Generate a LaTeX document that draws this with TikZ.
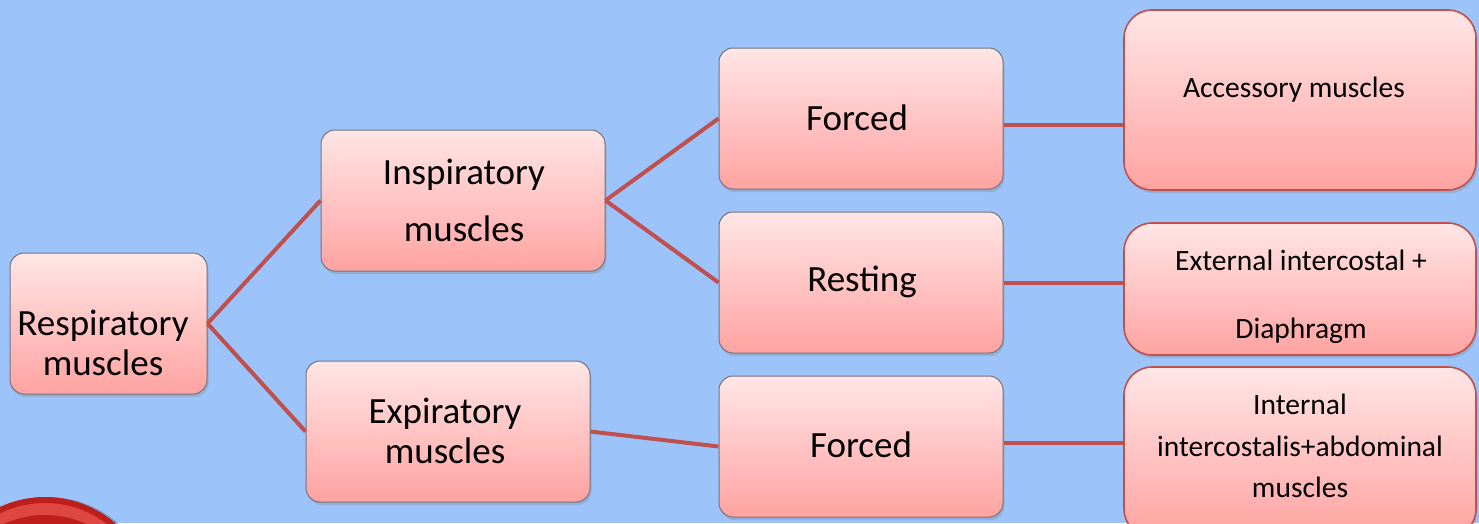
\documentclass[tikz,border=0pt]{standalone}
\usepackage{fontspec}
\setmainfont{Carlito}
\usetikzlibrary{shadows,calc}
\definecolor{bg}{RGB}{157,196,250}
\definecolor{lnk}{RGB}{192,80,77}
\definecolor{ptop}{RGB}{255,230,230}
\definecolor{pbot}{RGB}{255,163,161}
\definecolor{gb}{RGB}{115,115,125}
\definecolor{dred}{RGB}{190,30,28}
\definecolor{lred}{RGB}{222,70,66}
\begin{document}
\begin{tikzpicture}[x=1pt,y=-1pt,
  box/.style={draw=gb, line width=1pt, rounded corners=14pt, top color=ptop, bottom color=pbot,
    drop shadow={opacity=0.3,shadow xshift=1.5pt,shadow yshift=-3pt}, inner sep=0pt},
  rbox/.style={box, draw=lnk, line width=1.6pt, rounded corners=28pt},
  lbl/.style={font=\fontsize{37}{40}\selectfont, align=center, inner sep=0pt},
  slbl/.style={font=\fontsize{29.5}{30}\selectfont, align=center, inner sep=0pt},
  conn/.style={draw=lnk, line width=4pt}]
\useasboundingbox (0,0) rectangle (1479,523);
\clip (0,0) rectangle (1479,523);
\fill[bg] (0,0) rectangle (1479,523);
% partial red badge bottom-left
\fill[black,opacity=0.25] (47,606) circle (109);
\fill[dred] (45,604) circle (107);
\fill[lred] (45,604) circle (101);
\fill[dred] (45,614) circle (99);

% boxes
\node[box, minimum width=197, minimum height=141] (resp) at (108.5,323.5) {};
\node[box, minimum width=284, minimum height=141] (insp) at (463,200.5) {};
\node[box, minimum width=284, minimum height=141] (exp) at (448,431.5) {};
\node[box, minimum width=284, minimum height=141] (ft) at (861,118.5) {};
\node[box, minimum width=284, minimum height=141] (rest) at (861,282.5) {};
\node[box, minimum width=284, minimum height=141] (fb) at (861,446.5) {};
\node[rbox, minimum width=352, minimum height=180] (acc) at (1300,100) {};
\node[rbox, minimum width=352, minimum height=132] (ext) at (1300,289) {};
\node[rbox, minimum width=352, minimum height=170] (int) at (1300,452) {};

% labels
\node[lbl] (respT) at (103,343) {Respiratory\\muscles};
\node[lbl, font=\fontsize{37}{57}\selectfont] (inspT) at (464,200.5) {Inspiratory\\muscles};
\node[lbl] (expT) at (445,431) {Expiratory\\muscles};
\node[lbl] (ftT) at (857,118) {Forced};
\node[lbl] (rtT) at (862,282) {Resting};
\node[lbl] (fbT) at (861,445) {Forced};
\node[slbl] (accT) at (1294,90) {Accessory muscles};
\node[slbl, font=\fontsize{29.5}{68}\selectfont] (extT) at (1301,297) {External intercostal +\\Diaphragm};
\node[slbl, font=\fontsize{29.5}{41.5}\selectfont] (intT) at (1300,446) {Internal\\intercostalis+abdominal\\muscles};

% connectors
\draw[conn] (resp.east) -- (insp.west);
\draw[conn] (resp.east) -- (exp.west);
\draw[conn] (insp.east) -- (ft.west);
\draw[conn] (insp.east) -- (rest.west);
\draw[conn] (exp.east) -- (fb.west);
\draw[conn] ([yshift=-6.5pt]ft.east) -- ([yshift=-6.5pt]ft.east -| acc.west);
\draw[conn] (rest.east) -- (rest.east -| ext.west);
\draw[conn] ([yshift=4pt]fb.east) -- ([yshift=4pt]fb.east -| int.west);
\end{tikzpicture}
\end{document}
